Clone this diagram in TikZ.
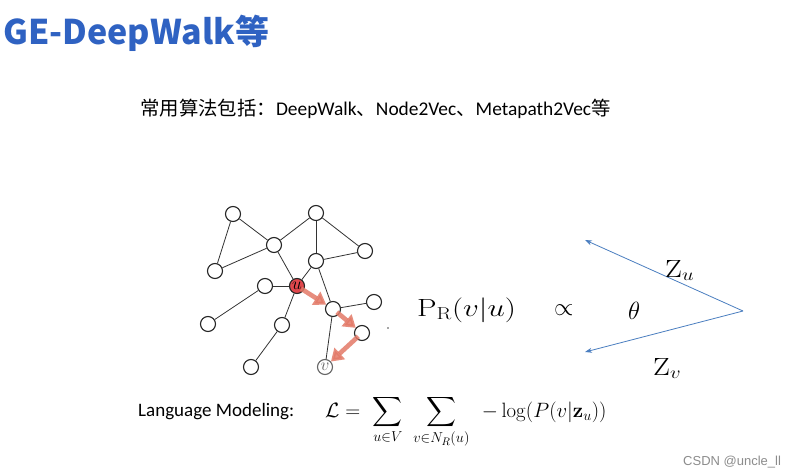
\documentclass[tikz,border=0pt]{standalone}
\usepackage{amsmath}
\usepackage{graphicx}
\usepackage[no-math]{fontspec}
\setmainfont{Carlito}
\newfontfamily\cjk{Noto Sans CJK SC}
\newfontfamily\wm{Liberation Sans}
\usetikzlibrary{arrows.meta}
\definecolor{titleblue}{HTML}{2F62C2}
\definecolor{vecblue}{HTML}{4A7EC0}
\definecolor{walkred}{HTML}{E37A68}
\definecolor{ured}{HTML}{E0474C}
\tikzset{
  gnode/.style={circle, draw=black!85, line width=1.1pt, fill=white, minimum size=15pt, inner sep=0pt},
  gedge/.style={draw=black!80, line width=0.8pt},
  walk/.style={draw=walkred, line width=4.6pt, opacity=0.85, -{Triangle[length=12pt,width=15pt]}, shorten >=0pt, shorten <=-3pt},
  vec/.style={draw=vecblue, line width=0.8pt, -{Stealth[length=7pt,width=5pt]}},
  txt/.style={inner sep=0pt, anchor=base west}
}
\begin{document}
\begin{tikzpicture}[x=1pt,y=-1pt]
\useasboundingbox (0,0) rectangle (797,476);
\fill[white] (0,0) rectangle (797,476);

% title and subtitle
\node[txt, text=titleblue] (title) at (3,45) {\cjk\bfseries\fontsize{34}{40}\selectfont GE-DeepWalk等};
\node[txt] (sub) at (140,116) {\fontsize{19.4}{24}\selectfont{\cjk 常用算法包括：}DeepWalk{\cjk 、}Node2Vec{\cjk 、}Metapath2Vec{\cjk 等}};

% graph
\node[gnode] (n1) at (233,214) {};
\node[gnode] (n2) at (316,213) {};
\node[gnode] (n3) at (274,245) {};
\node[gnode] (n4) at (365,251) {};
\node[gnode] (n5) at (316,261) {};
\node[gnode] (n6) at (215,271) {};
\node[gnode] (n7) at (265,286) {};
\node[gnode, fill=ured] (u) at (297,286) {\fontsize{16}{16}\selectfont$u$};
\node[gnode] (n9) at (374,302) {};
\node[gnode] (n10) at (333,309) {};
\node[gnode] (n11) at (208,324) {};
\node[gnode] (n12) at (282,325) {};
\node[gnode] (n13) at (362,333) {};
\node[gnode] (n14) at (251,367) {};
\node[gnode, draw=black!60] (v) at (325,367) {\fontsize{16}{16}\selectfont\color{black!60}$v$};
\fill[black!70] (388,328) circle (0.8pt);

\draw[gedge] (n1) -- (n3);
\draw[gedge] (n1) -- (n6);
\draw[gedge] (n6) -- (n3);
\draw[gedge] (n3) -- (n2);
\draw[gedge] (n2) -- (n5);
\draw[gedge] (n2) -- (n4);
\draw[gedge] (n4) -- (n5);
\draw[gedge] (n3) -- (u);
\draw[gedge] (n5) -- (u);
\draw[gedge] (n5) -- (n10);
\draw[gedge] (n7) -- (u);
\draw[gedge] (n7) -- (n11);
\draw[gedge] (u) -- (n12);
\draw[gedge] (n12) -- (n14);
\draw[gedge] (n10) -- (n9);
\draw[gedge] (n10) -- (v);

\draw[walk] (u) -- (n10);
\draw[walk] (n10) -- (n13);
\draw[walk] (n13) -- (v);

% probability expression
\node[txt] (prob) at (417,316) {\scalebox{1.25}[1]{\fontsize{27}{30}\selectfont$\mathrm{P}_{\mathrm{R}}(v|u)$}};
\node[txt] (prop) at (554,315) {\fontsize{24}{28}\selectfont$\propto$};
\node[txt] (theta) at (628,319) {\fontsize{24}{26}\selectfont$\theta$};

% vectors
\coordinate (apex) at (743,311);
\coordinate (zutip) at (585,240);
\coordinate (zvtip) at (585,352);
\draw[vec] (apex) -- (zutip);
\draw[vec] (apex) -- (zvtip);
\node[txt] (zu) at (665,277) {\scalebox{1.2}[1]{\fontsize{25}{28}\selectfont$\mathrm{Z}_u$}};
\node[txt] (zv) at (653,375) {\scalebox{1.2}[1]{\fontsize{25}{28}\selectfont$\mathrm{Z}_v$}};

% language modeling
\node[txt] (lm) at (138,416) {\fontsize{19}{22}\selectfont Language Modeling:};
\node[txt] (formula) at (325,417) {\fontsize{22}{26}\selectfont$\displaystyle \mathcal{L}=\hspace{7pt}\sum_{u\in V}\hspace{7pt}\sum_{v\in N_R(u)}\hspace{9pt}-\log(P(v|\mathbf{z}_u))$};

% watermark
\node[txt, text=black!45] (wmk) at (683,465) {\wm\fontsize{13}{15}\selectfont CSDN @uncle\_ll};
\end{tikzpicture}
\end{document}
